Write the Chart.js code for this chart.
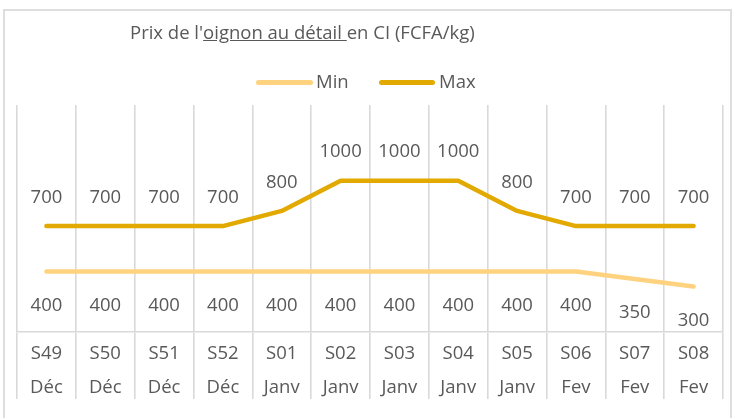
<!DOCTYPE html>
<html>
<head>
<meta charset="utf-8">
<script src="https://cdn.jsdelivr.net/npm/chart.js@4/dist/chart.umd.min.js"></script>
<style>
  body { margin: 0; background: #fff; font-family: 'Open Sans', sans-serif; color: #595959; }
  #wrap { position: relative; width: 737px; height: 418px; overflow: hidden; }
  #cadre { position: absolute; left: 3px; top: 9px; width: 729px; height: 420px; border: 2px solid #dedede; box-sizing: border-box; }
  canvas { position: absolute; left: 0; top: 0; }
  .txt { position: absolute; font-size: 18.5px; line-height: 20px; white-space: nowrap; }
  .trait { position: absolute; height: 5px; border-radius: 3px; }
</style>
</head>
<body>
<div id="wrap">
  <div id="cadre"></div>
  <canvas id="prix_oignon" width="737" height="418"></canvas>
  <div class="txt" style="left:130px; top:22px;">Prix de l'<u>oignon au détail </u>en CI (FCFA/kg)</div>
  <div class="trait" style="left:256px; top:80px; width:57px; background:#FFD27F;"></div>
  <div class="txt" style="left:316px; top:71px;">Min</div>
  <div class="trait" style="left:379px; top:80px; width:56px; background:#E2AA00;"></div>
  <div class="txt" style="left:439px; top:71px;">Max</div>
</div>
<script>
var semaines = ['S49', 'S50', 'S51', 'S52', 'S01', 'S02', 'S03', 'S04', 'S05', 'S06', 'S07', 'S08'];
var mois = ['Déc', 'Déc', 'Déc', 'Déc', 'Janv', 'Janv', 'Janv', 'Janv', 'Janv', 'Fev', 'Fev', 'Fev'];
var prixMin = [400, 400, 400, 400, 400, 400, 400, 400, 400, 400, 350, 300];
var prixMax = [700, 700, 700, 700, 800, 1000, 1000, 1000, 800, 700, 700, 700];

var couleurMin = '#FFD27F';
var couleurMax = '#E2AA00';
var gris = '#d9d9d9';
var texte = '#595959';

// etiquettes de valeurs : au-dessus pour Max, en dessous pour Min
var etiquettes = {
  id: 'etiquettes',
  afterDatasetsDraw: function(chart) {
    var ctx = chart.ctx;
    ctx.save();
    ctx.font = '18.5px "Open Sans"';
    ctx.fillStyle = texte;
    ctx.textAlign = 'center';
    ctx.textBaseline = 'middle';
    chart.data.datasets.forEach(function(ds, i) {
      var meta = chart.getDatasetMeta(i);
      meta.data.forEach(function(pt, j) {
        var dy = ds.label === 'Max' ? -28.5 : 34;
        ctx.fillText(ds.data[j], pt.x, pt.y + dy);
      });
    });
    ctx.restore();
  }
};

var ctx = document.getElementById('prix_oignon').getContext('2d');

var graphique = new Chart(ctx, {
  type: 'line',
  data: {
    labels: semaines.map(function(s, i) { return [s, mois[i]]; }),
    datasets: [{
      label: 'Min',
      data: prixMin,
      borderColor: couleurMin,
      backgroundColor: couleurMin,
      borderWidth: 4.5,
      borderCapStyle: 'round',
      borderJoinStyle: 'round',
      pointRadius: 0,
      fill: false
    }, {
      label: 'Max',
      data: prixMax,
      borderColor: couleurMax,
      backgroundColor: couleurMax,
      borderWidth: 4.5,
      borderCapStyle: 'round',
      borderJoinStyle: 'round',
      pointRadius: 0,
      fill: false
    }]
  },
  options: {
    responsive: false,
    animation: false,
    layout: { padding: { top: 105, left: 17, right: 14, bottom: 0 } },
    plugins: {
      legend: { display: false },
      tooltip: { enabled: false }
    },
    scales: {
      x: {
        offset: true,
        grid: { offset: true, color: gris, lineWidth: 1.6, tickLength: 67, drawTicks: true },
        border: { color: gris, width: 1.6 },
        ticks: {
          color: texte,
          font: { family: 'Open Sans', size: 18.5, lineHeight: '34px' },
          padding: -62.5,
          maxRotation: 0,
          autoSkip: false
        },
        afterFit: function(scale) { scale.height = 86; }
      },
      y: { display: false, min: 0, max: 1500 }
    }
  },
  plugins: [etiquettes]
});
</script>
</body>
</html>
